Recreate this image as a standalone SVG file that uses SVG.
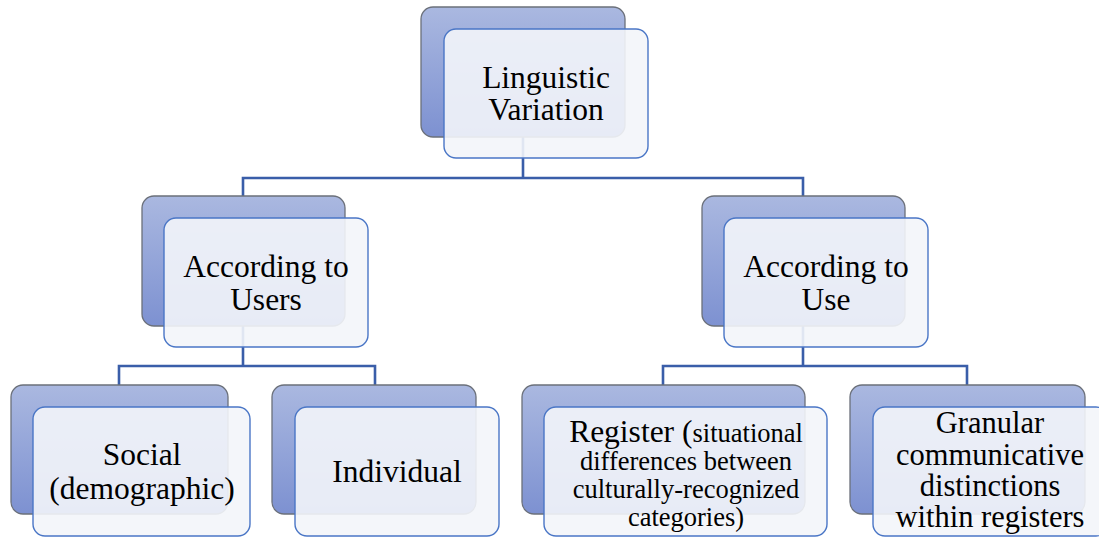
<svg xmlns="http://www.w3.org/2000/svg" width="1099" height="537" viewBox="0 0 1099 537">
  <defs>
    <linearGradient id="bg" x1="0" y1="0" x2="0" y2="1">
      <stop offset="0" stop-color="#aab8e0"/>
      <stop offset="1" stop-color="#7d91d1"/>
    </linearGradient>
    <style>
      .back { fill: url(#bg); stroke: #6b707a; stroke-width: 1.3; }
      .front { fill: #f3f5fa; fill-opacity: 0.9; stroke: #4a76c6; stroke-width: 1.4; }
      .conn { fill: none; stroke: #3a5ea9; stroke-width: 2.6; }
      text { font-family: 'Liberation Serif', 'Times New Roman', serif; font-size: 31.5px; fill: #000; text-anchor: middle; }
      .s { font-size: 26.5px; }
      .g { font-size: 30.5px; }
    </style>
  </defs>
  <rect width="1099" height="537" fill="#ffffff"/>

  <g id="connectors">
    <path class="conn" d="M523 136 V178 M243 196 V178 H803 V196"/>
    <path class="conn" d="M243 326 V366 M119 385 V366 H375 V385"/>
    <path class="conn" d="M803 326 V366 M663 385 V366 H967 V385"/>
  </g>

  <g id="linguistic-variation">
    <rect class="back" x="421" y="7" width="204" height="130" rx="12"/>
    <rect class="front" x="444" y="29" width="204" height="129" rx="12"/>
    <text x="546" y="88">Linguistic</text>
    <text x="546" y="120">Variation</text>
  </g>

  <g id="according-to-users">
    <rect class="back" x="142" y="196" width="203" height="130" rx="12"/>
    <rect class="front" x="164" y="218" width="204" height="129" rx="12"/>
    <text x="266" y="277">According to</text>
    <text x="266" y="310">Users</text>
  </g>

  <g id="according-to-use">
    <rect class="back" x="702" y="196" width="203" height="130" rx="12"/>
    <rect class="front" x="724" y="218" width="204" height="129" rx="12"/>
    <text x="826" y="277">According to</text>
    <text x="826" y="310">Use</text>
  </g>

  <g id="social">
    <rect class="back" x="11" y="385" width="217" height="129" rx="12"/>
    <rect class="front" x="33" y="407" width="217" height="129" rx="12"/>
    <text x="142" y="465">Social</text>
    <text x="142" y="499">(demographic)</text>
  </g>

  <g id="individual">
    <rect class="back" x="272" y="385" width="204" height="129" rx="12"/>
    <rect class="front" x="295" y="407" width="204" height="129" rx="12"/>
    <text x="397" y="482">Individual</text>
  </g>

  <g id="register">
    <rect class="back" x="522" y="385" width="283" height="129" rx="12"/>
    <rect class="front" x="544" y="407" width="283" height="129" rx="12"/>
    <text x="686" y="442">Register (<tspan class="s">situational</tspan></text>
    <text class="s" x="686" y="470">differences between</text>
    <text class="s" x="686" y="498">culturally-recognized</text>
    <text class="s" x="686" y="526">categories)</text>
  </g>

  <g id="granular">
    <rect class="back" x="850" y="385" width="235" height="129" rx="12"/>
    <rect class="front" x="873" y="407" width="235" height="129" rx="12"/>
    <text class="g" x="990" y="433">Granular</text>
    <text class="g" x="990" y="465">communicative</text>
    <text class="g" x="990" y="496">distinctions</text>
    <text class="g" x="990" y="527">within registers</text>
  </g>
</svg>
